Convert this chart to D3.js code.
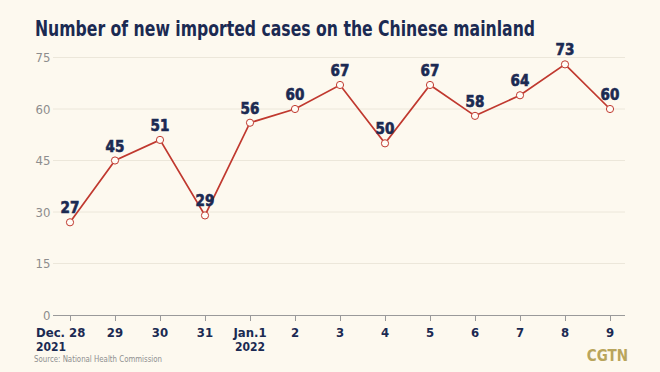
<!DOCTYPE html>
<html>
<head>
<meta charset="utf-8">
<script src="https://cdn.jsdelivr.net/npm/d3@7"></script>
<style>
  body { margin: 0; background: #fdf9ef; }
  svg { display: block; }
  .cond { font-family: "DejaVu Sans Condensed", "Roboto", sans-serif; }
</style>
</head>
<body>
<script>
// chart data
var days = ["Dec. 28", "29", "30", "31", "Jan.1", "2", "3", "4", "5", "6", "7", "8", "9"];
var years = ["2021", "", "", "", "2022", "", "", "", "", "", "", "", ""];
var cases = [27, 45, 51, 29, 56, 60, 67, 50, 67, 58, 64, 73, 60];
var yTicks = [0, 15, 30, 45, 60, 75];

var width = 660, height = 372;
var navy = "#1b2a52";

var svg = d3.select("body").append("svg")
    .attr("width", width)
    .attr("height", height);

svg.append("rect")
    .attr("width", width)
    .attr("height", height)
    .attr("fill", "#fdf9ef");

// title, squeezed to the reference width
svg.append("text")
    .attr("class", "cond")
    .attr("x", 35)
    .attr("y", 35.5)
    .attr("fill", navy)
    .attr("font-size", 21)
    .attr("font-weight", "bold")
    .attr("textLength", 500)
    .attr("lengthAdjust", "spacingAndGlyphs")
    .text("Number of new imported cases on the Chinese mainland");

var x = d3.scalePoint()
    .domain(days)
    .range([70, 610]);

var y = d3.scaleLinear()
    .domain([0, 75])
    .range([315, 57.5]);

// grid lines
svg.selectAll(".grid")
    .data(yTicks.filter(function(d){ return d > 0; }))
    .enter()
    .append("line")
    .attr("x1", 53)
    .attr("x2", 625)
    .attr("y1", function(d){ return y(d); })
    .attr("y2", function(d){ return y(d); })
    .attr("stroke", "#ece7da")
    .attr("stroke-width", 1);

// y labels
svg.selectAll(".ylab")
    .data(yTicks)
    .enter()
    .append("text")
    .attr("class", "cond")
    .attr("x", 50.5)
    .attr("y", function(d){ return y(d) + 4.5; })
    .attr("text-anchor", "end")
    .attr("fill", "#8d8d8d")
    .attr("font-size", 13)
    .text(function(d){ return d; });

// x axis
var xAxis = svg.append("g")
    .attr("transform", "translate(0," + y(0) + ")")
    .call(d3.axisBottom(x).tickSize(6).tickFormat(""));
xAxis.select(".domain").attr("d", "M53,0.5H625").attr("stroke", "#9a9a9a");
xAxis.selectAll(".tick line").attr("stroke", "#9a9a9a");

// x labels
svg.selectAll(".xlab")
    .data(days)
    .enter()
    .append("text")
    .attr("class", "cond")
    .attr("x", function(d, i){ return i === 0 ? 36 : x(d); })
    .attr("y", 337)
    .attr("text-anchor", function(d, i){ return i === 0 ? "start" : "middle"; })
    .attr("fill", navy)
    .attr("font-size", 13)
    .attr("font-weight", "bold")
    .text(function(d){ return d; });

svg.selectAll(".yearlab")
    .data(years)
    .enter()
    .append("text")
    .attr("class", "cond")
    .attr("x", function(d, i){ return i === 0 ? 36 : x(days[i]); })
    .attr("y", 351)
    .attr("text-anchor", function(d, i){ return i === 0 ? "start" : "middle"; })
    .attr("fill", navy)
    .attr("font-size", 12)
    .attr("font-weight", "bold")
    .text(function(d){ return d; });

// line
var line = d3.line()
    .x(function(d, i){ return x(days[i]); })
    .y(function(d){ return y(d); });

svg.append("path")
    .datum(cases)
    .attr("d", line)
    .attr("fill", "none")
    .attr("stroke", "#c0392f")
    .attr("stroke-width", 1.7);

svg.selectAll(".dot")
    .data(cases)
    .enter()
    .append("circle")
    .attr("cx", function(d, i){ return x(days[i]); })
    .attr("cy", function(d){ return y(d); })
    .attr("r", 3.6)
    .attr("fill", "#fffdf7")
    .attr("stroke", "#c0392f")
    .attr("stroke-width", 1);

// value labels (stroke makes them heavier, like the reference)
svg.selectAll(".val")
    .data(cases)
    .enter()
    .append("text")
    .attr("class", "cond")
    .attr("x", function(d, i){ return x(days[i]); })
    .attr("y", function(d){ return y(d) - 9; })
    .attr("text-anchor", "middle")
    .attr("fill", navy)
    .attr("stroke", navy)
    .attr("stroke-width", 0.6)
    .attr("font-size", 15)
    .attr("font-weight", "bold")
    .text(function(d){ return d; });

// source and logo
svg.append("text")
    .attr("class", "cond")
    .attr("x", 34)
    .attr("y", 362)
    .attr("fill", "#8f8f8f")
    .attr("font-size", 9)
    .attr("textLength", 128)
    .attr("lengthAdjust", "spacingAndGlyphs")
    .text("Source: National Health Commission");

svg.append("text")
    .attr("class", "cond")
    .attr("x", 628)
    .attr("y", 361)
    .attr("text-anchor", "end")
    .attr("fill", "#b9a55c")
    .attr("font-size", 15)
    .attr("font-weight", "bold")
    .text("CGTN");
</script>
</body>
</html>
